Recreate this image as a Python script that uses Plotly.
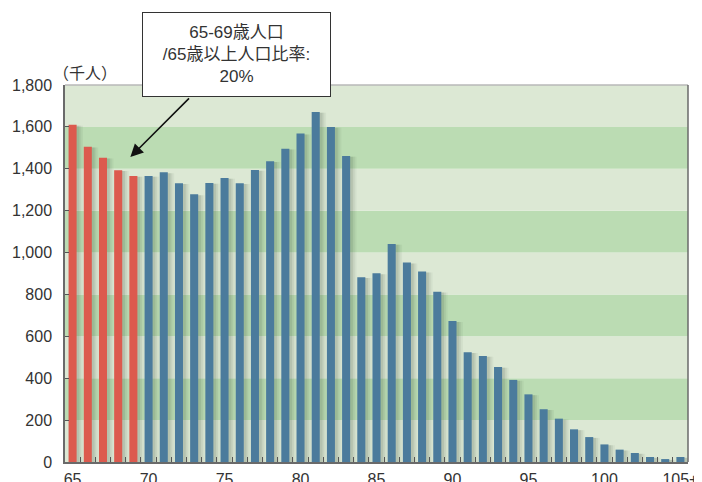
import plotly.graph_objects as go

ages = list(range(65, 106))
age_labels = [str(a) for a in range(65, 105)] + ["105+"]
population = [1610, 1505, 1453, 1393, 1366, 1366, 1383, 1331, 1278, 1332,
              1356, 1331, 1394, 1436, 1496, 1568, 1671, 1600, 1461, 882,
              901, 1041, 952, 909, 813, 673, 524, 506, 454, 392,
              323, 252, 207, 156, 119, 84, 59, 43, 24, 14, 24]
tick_vals = [65, 70, 75, 80, 85, 90, 95, 100, 105]
tick_text = ["65", "70", "75", "80", "85", "90", "95", "100", "105+"]
y_ticks = [0, 200, 400, 600, 800, 1000, 1200, 1400, 1600, 1800]

RED = "#dc5a4e"
BLUE = "#4b7b9c"
colors = [RED if a < 70 else BLUE for a in ages]

fig = go.Figure()
# soft shadows
for dx, alpha in [(0.18, 0.10), (0.30, 0.07), (0.42, 0.05)]:
    fig.add_trace(go.Bar(x=ages, y=[max(v - 4, 0) for v in population],
                         width=0.53, offset=-0.265 + dx,
                         marker=dict(color=f"rgba(40,60,40,{alpha})", line_width=0),
                         hoverinfo="skip", showlegend=False))
fig.add_trace(go.Bar(x=ages, y=population, width=0.53, offset=-0.265,
                     marker=dict(color=colors, line_width=0),
                     customdata=age_labels,
                     hovertemplate="%{customdata}: %{y}<extra></extra>",
                     showlegend=False))

shapes = []
for lo in range(0, 1800, 200):
    col = "#bbdcb3" if (lo // 200) % 2 == 1 else "#dce8d4"
    shapes.append(dict(type="rect", xref="paper", yref="y", x0=0, x1=1, y0=lo, y1=lo + 200,
                       fillcolor=col, line_width=0, layer="below"))
# border
shapes.append(dict(type="line", xref="paper", yref="paper", x0=0, x1=1, y0=1, y1=1,
                   line=dict(color="#b8b8b8", width=1.5)))
shapes.append(dict(type="line", xref="paper", yref="paper", x0=1, x1=1, y0=0, y1=1,
                   line=dict(color="#6a6a6a", width=1.5)))

# page body has an 8px margin; size the figure so the plot area lands where the reference has it
fig.update_layout(
    width=694, height=474,
    margin=dict(l=57, r=14, t=77, b=20, autoexpand=False),
    paper_bgcolor="white", plot_bgcolor="rgba(0,0,0,0)",
    barmode="overlay",
    font=dict(family="Liberation Sans, Noto Sans CJK JP, sans-serif", size=16, color="#333333"),
    shapes=shapes,
    xaxis=dict(range=[64.5, 105.5], tickmode="array", tickvals=tick_vals, ticktext=tick_text,
               ticks="", showgrid=False, zeroline=False, automargin=False,
               showline=True, linecolor="#6a6a6a", linewidth=1.5,
               ticklabelstandoff=2,
               minor=dict(tickmode="array", tickvals=[a + 0.5 for a in range(65, 105)],
                          ticks="inside", ticklen=5, tickcolor="#555555", tickwidth=1, showgrid=False),
               tickfont=dict(size=16)),
    yaxis=dict(range=[0, 1800], tickmode="array", tickvals=y_ticks,
               ticktext=[f"{v:,}" for v in y_ticks],
               ticks="inside", ticklen=4, tickcolor="#555555",
               showgrid=False, zeroline=False, automargin=False,
               showline=True, linecolor="#6a6a6a", linewidth=1.5,
               ticklabelstandoff=8,
               tickfont=dict(size=16)),
    annotations=[
        dict(text="（千人）", xref="paper", yref="paper", x=-0.022, y=0.997, xanchor="left",
             yanchor="bottom", showarrow=False, font=dict(size=16, family="Noto Sans CJK JP")),
        dict(text="", xref="x", yref="y", x=68.8, y=1456, ax=72.76, ay=1743,
             axref="x", ayref="y", showarrow=True, arrowhead=2, arrowsize=1.6,
             arrowwidth=1.6, arrowcolor="#111111", standoff=0),
        dict(text="65-69歳人口<br>/65歳以上人口比率:<br>20%", xref="paper", yref="paper",
             x=(237 - 65) / 624, y=(462 - 12) / 377, xanchor="center", yanchor="top",
             showarrow=False, width=181, height=77,
             font=dict(size=17, family="Liberation Sans, Noto Sans CJK JP", color="#333333"),
             bgcolor="white", bordercolor="#333333", borderwidth=1, borderpad=3,
             align="center", valign="middle"),
    ],
)
fig.write_html("out.html")
